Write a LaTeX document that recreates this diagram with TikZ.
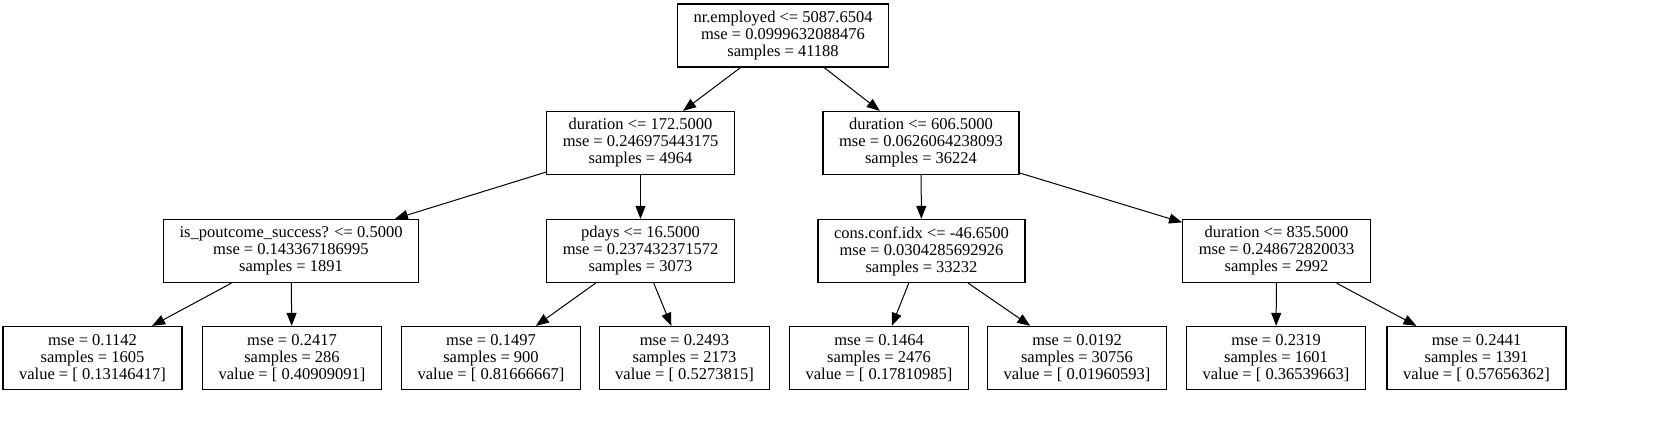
\documentclass[tikz,border=0pt]{standalone}
\usepackage{fontspec}
\setmainfont{Liberation Serif}
\usetikzlibrary{arrows.meta}

\begin{document}
\begin{tikzpicture}[x=1pt,y=-1pt]
		\tikzstyle{every node}=[font=\fontsize{16.5}{17}\selectfont]
		\tikzstyle{treenode}=[draw, line width=1.3pt, align=center, inner xsep=16pt, minimum height=63pt]
		\tikzstyle{treeedge}=[line width=1pt, -{Triangle[length=13pt,width=10pt]}]
		\useasboundingbox (0,0) rectangle (1671,421);
		% root and first split
		\node [treenode] (root) at (783,35.5) {nr.employed <= 5087.6504\\mse = 0.0999632088476\\samples = 41188};
		\node [treenode] (durA) at (640.5,143) {duration <= 172.5000\\mse = 0.246975443175\\samples = 4964};
		\node [treenode] (durB) at (921,143) {duration <= 606.5000\\mse = 0.0626064238093\\samples = 36224};
		% second level
		\node [treenode] (pout) at (291,251) {is\_poutcome\_success? <= 0.5000\\mse = 0.143367186995\\samples = 1891};
		\node [treenode] (pdays) at (640.5,251) {pdays <= 16.5000\\mse = 0.237432371572\\samples = 3073};
		\node [treenode] (conf) at (921.5,251) {cons.conf.idx <= -46.6500\\mse = 0.0304285692926\\samples = 33232};
		\node [treenode] (durC) at (1276.5,251) {duration <= 835.5000\\mse = 0.248672820033\\samples = 2992};
		% leaves
		\node [treenode] (leafA) at (92.5,358) {mse = 0.1142\\samples = 1605\\value = [ 0.13146417]};
		\node [treenode] (leafB) at (292,358) {mse = 0.2417\\samples = 286\\value = [ 0.40909091]};
		\node [treenode] (leafC) at (491,358) {mse = 0.1497\\samples = 900\\value = [ 0.81666667]};
		\node [treenode] (leafD) at (684.5,358) {mse = 0.2493\\samples = 2173\\value = [ 0.5273815]};
		\node [treenode] (leafE) at (879,358) {mse = 0.1464\\samples = 2476\\value = [ 0.17810985]};
		\node [treenode] (leafF) at (1077,358) {mse = 0.0192\\samples = 30756\\value = [ 0.01960593]};
		\node [treenode] (leafG) at (1276,358) {mse = 0.2319\\samples = 1601\\value = [ 0.36539663]};
		\node [treenode] (leafH) at (1476.5,358) {mse = 0.2441\\samples = 1391\\value = [ 0.57656362]};
		% edges
		\draw [treeedge] (root) -- (durA);
		\draw [treeedge] (root) -- (durB);
		\draw [treeedge] (durA) -- (pout);
		\draw [treeedge] (durA) -- (pdays);
		\draw [treeedge] (durB) -- (conf);
		\draw [treeedge] (durB) -- (durC);
		\draw [treeedge] (pout) -- (leafA);
		\draw [treeedge] (pout) -- (leafB);
		\draw [treeedge] (pdays) -- (leafC);
		\draw [treeedge] (pdays) -- (leafD);
		\draw [treeedge] (conf) -- (leafE);
		\draw [treeedge] (conf) -- (leafF);
		\draw [treeedge] (durC) -- (leafG);
		\draw [treeedge] (durC) -- (leafH);
\end{tikzpicture}
\end{document}
